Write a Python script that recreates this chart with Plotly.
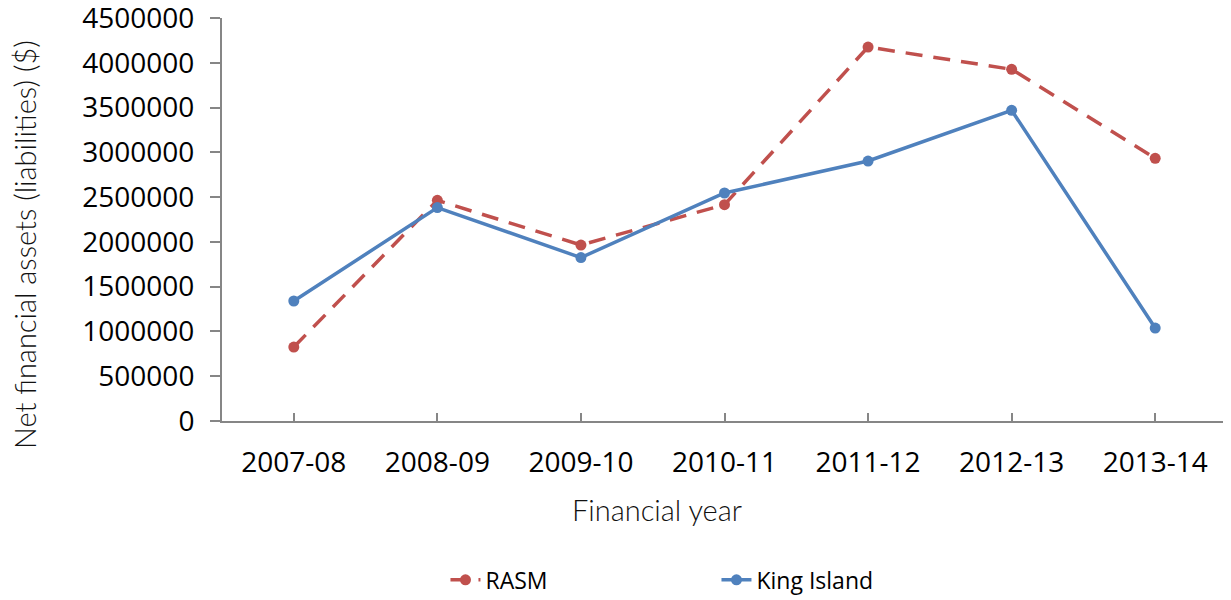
import plotly.graph_objects as go

years = ["2007-08", "2008-09", "2009-10", "2010-11", "2011-12", "2012-13", "2013-14"]
rasm = [826000, 2464000, 1965000, 2416000, 4176000, 3927000, 2933000]
king_island = [1340000, 2383000, 1825000, 2546000, 2903000, 3469000, 1038000]
y_ticks = [0, 500000, 1000000, 1500000, 2000000, 2500000, 3000000, 3500000, 4000000, 4500000]
x_title = "Financial year"
y_title = "Net financial assets (liabilities) ($)"

RED = "#C0504D"
BLUE = "#4F81BD"
AXIS = "#868686"
TICKFONT = dict(family="Open Sans", size=28, color="#000000")
TITLEFONT = dict(family="Lato", size=29, color="#111111", weight=300)

fig = go.Figure()
fig.add_trace(go.Scatter(
    x=years, y=rasm, name="RASM", mode="lines+markers",
    line=dict(color=RED, width=3.5, dash="17px,11px"),
    marker=dict(color=RED, size=11),
))
fig.add_trace(go.Scatter(
    x=years, y=king_island, name="King Island", mode="lines+markers",
    line=dict(color=BLUE, width=3.5),
    marker=dict(color=BLUE, size=11),
))

fig.update_layout(
    width=1223, height=592,
    margin=dict(l=214, r=4, t=10, b=179),
    paper_bgcolor="white", plot_bgcolor="white",
    showlegend=True,
    legend=dict(
        orientation="h", xref="container", yref="container",
        x=0.3577, xanchor="left", y=0.034, yanchor="middle",
        font=dict(family="Open Sans", size=23, color="#000000"),
        entrywidth=226, entrywidthmode="pixels",
    ),
    xaxis=dict(
        type="category", categoryorder="array", categoryarray=years,
        range=[-0.5, 6.5], automargin=False,
        showline=True, linecolor=AXIS, linewidth=2,
        ticks="inside", ticklen=8, tickcolor=AXIS, tickwidth=2,
        tickfont=TICKFONT, ticklabelstandoff=15, ticklabeloverflow="allow",
        showgrid=False, zeroline=False,
    ),
    yaxis=dict(
        range=[0, 4500000], tickvals=y_ticks, automargin=False,
        ticktext=[str(v) for v in y_ticks],
        showline=True, linecolor=AXIS, linewidth=2,
        ticks="outside", ticklen=10, tickcolor=AXIS, tickwidth=2,
        tickfont=TICKFONT, ticklabelstandoff=10, ticklabeloverflow="allow",
        showgrid=False, zeroline=False,
    ),
    annotations=[
        dict(text=x_title, xref="paper", yref="paper", x=0.4328, y=-0.2208,
             xanchor="center", yanchor="middle", showarrow=False, font=TITLEFONT),
        dict(text=y_title, xref="paper", yref="paper", x=-0.197, y=0.4367,
             xanchor="center", yanchor="middle", showarrow=False, font=TITLEFONT,
             textangle=-90),
    ],
)

fig.write_html("out.html")
